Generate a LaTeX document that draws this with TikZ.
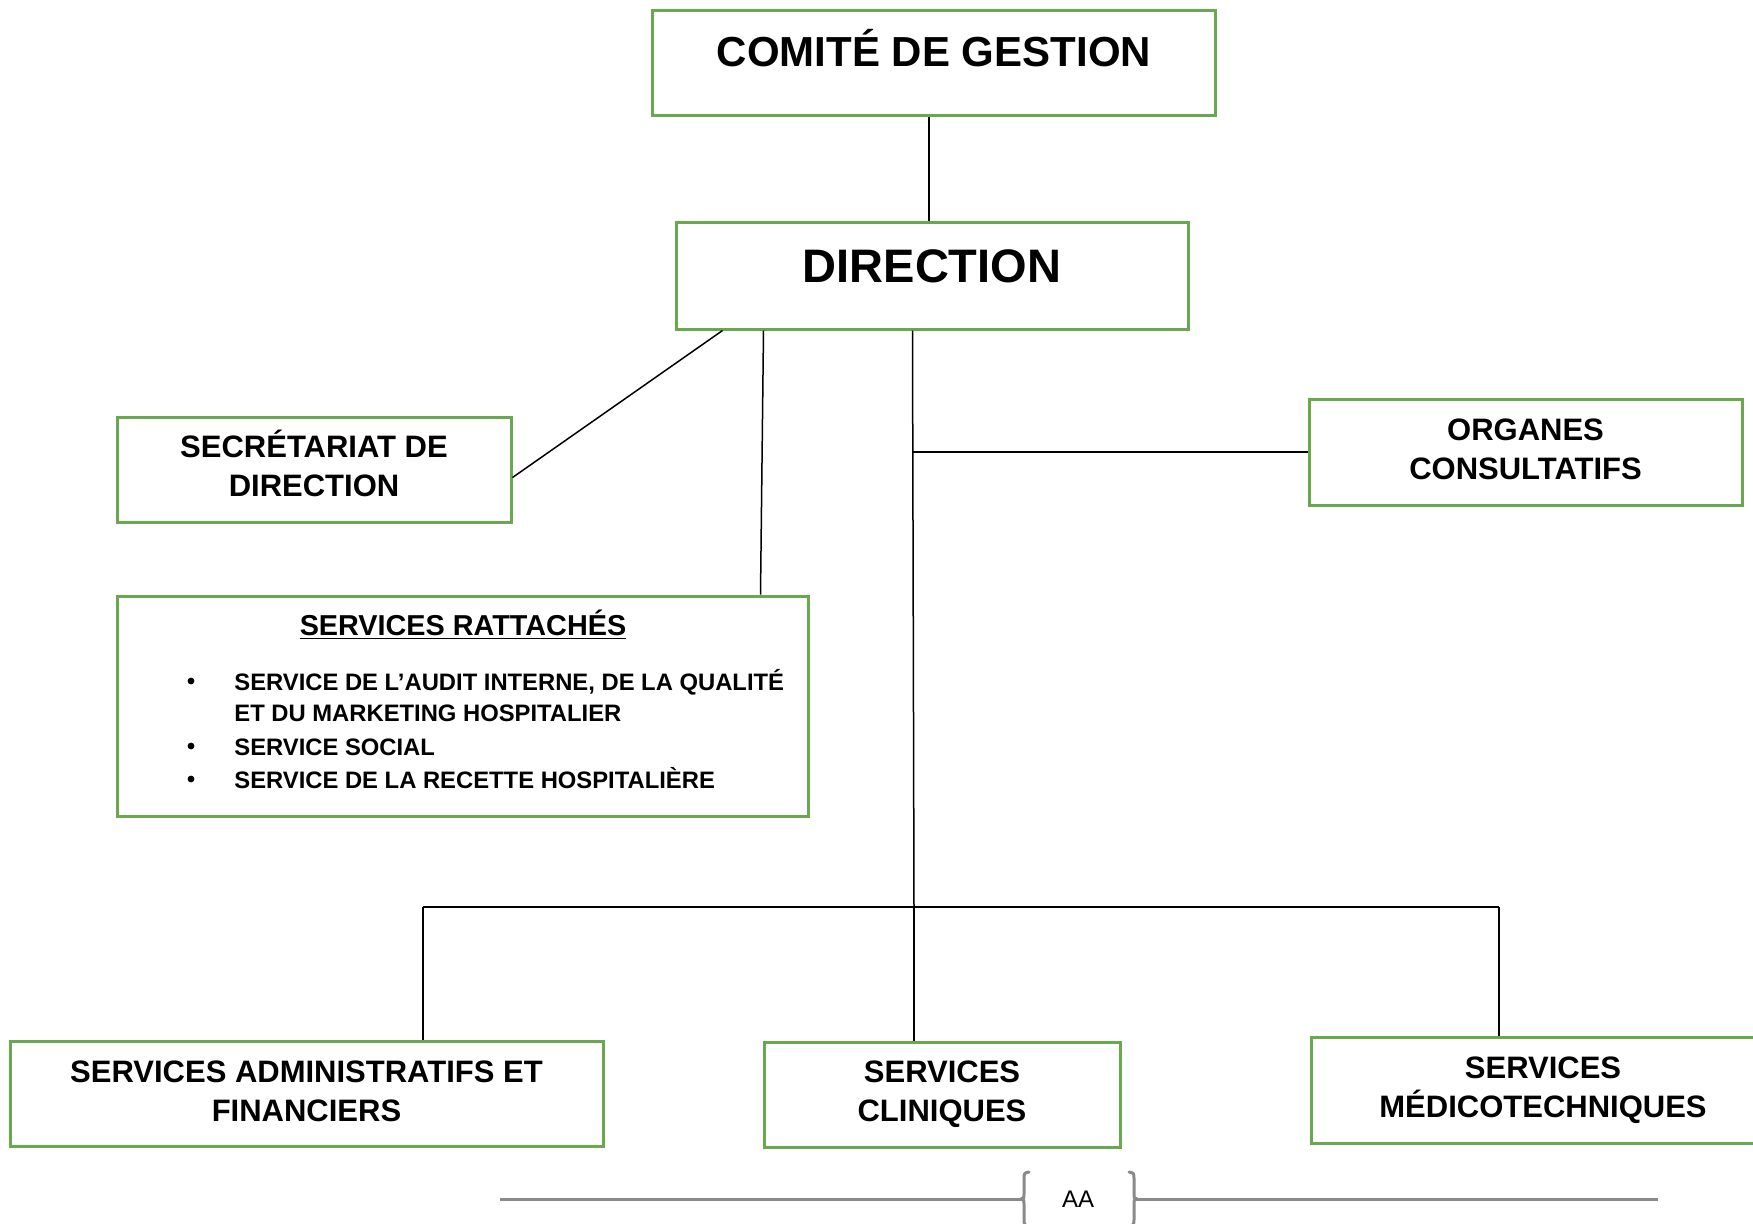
\documentclass[tikz,border=0pt]{standalone}
\usepackage{fontspec}
\setmainfont{Liberation Sans}
\usetikzlibrary{calc}
\definecolor{boxgreen}{HTML}{6AA84F}
\definecolor{footgray}{HTML}{8A8A8A}
\begin{document}
\begin{tikzpicture}[x=0.5pt,y=-0.5pt,
  box/.style={draw=boxgreen, line width=1.5pt, inner sep=0pt, align=center,
    font=\fontsize{15.5}{19.5}\selectfont\bfseries},
  boxtext/.style={inner sep=0pt, align=center, font=\fontsize{15.5}{19.5}\selectfont\bfseries},
  conn/.style={draw=black, line width=0.75pt},
  bigtitle/.style={inner sep=0pt, anchor=base, font=\fontsize{21}{25}\selectfont\bfseries},
  itemtext/.style={inner sep=0pt, anchor=base west, font=\fontsize{11.9}{14}\selectfont\bfseries},
  bul/.style={circle, fill=black, inner sep=0pt, minimum size=3.4pt},
  foot/.style={draw=footgray, line width=1.5pt}]
\useasboundingbox (0,0) rectangle (1753,1223);
\fill[white] (0,0) rectangle (1753,1223);

% boxes
\node[box, minimum width=281.5pt, minimum height=52.5pt] (comite) at (934,62.5) {};
\node[bigtitle] (comite-t) at (934,66) {COMITÉ DE GESTION};
\node[box, minimum width=256pt, minimum height=53.5pt] (direction) at (932,275.5) {};
\node[bigtitle, font=\fontsize{23.5}{28}\selectfont\bfseries] (direction-t) at (932,282) {DIRECTION};
\node[box, minimum width=197pt, minimum height=52.5pt] (secretariat) at (314,469.5) {};
\node[boxtext] (secretariat-t) at (314,463) {SECRÉTARIAT DE\\DIRECTION};
\node[box, minimum width=216.5pt, minimum height=53pt] (organes) at (1525.5,452) {};
\node[boxtext] (organes-t) at (1525.5,449) {ORGANES\\CONSULTATIFS};
\node[box, minimum width=345.5pt, minimum height=110pt] (rattaches) at (462.5,706) {};
\node[inner sep=0pt, anchor=base, font=\fontsize{14.4}{17}\selectfont\bfseries] (rattaches-t) at (463,635) {\underline{SERVICES RATTACHÉS}};
\node[bul] (b1) at (191,681) {};
\node[itemtext] (r1) at (234,690) {SERVICE DE L’AUDIT INTERNE, DE LA QUALITÉ};
\node[itemtext] (r1b) at (234,721) {ET DU MARKETING HOSPITALIER};
\node[bul] (b2) at (191,746) {};
\node[itemtext] (r2) at (234,755) {SERVICE SOCIAL};
\node[bul] (b3) at (191,779) {};
\node[itemtext] (r3) at (234,788) {SERVICE DE LA RECETTE HOSPITALIÈRE};
\node[box, minimum width=296.5pt, minimum height=52.5pt] (admin) at (306.5,1093.5) {};
\node[boxtext] (admin-t) at (306.5,1091) {SERVICES ADMINISTRATIFS ET\\FINANCIERS};
\node[box, minimum width=178pt, minimum height=52.5pt] (cliniques) at (942,1094.5) {SERVICES\\CLINIQUES};
\node[box, minimum width=232pt, minimum height=53pt] (medico) at (1543,1090) {SERVICES\\MÉDICOTECHNIQUES};

% connectors
\draw[conn] (comite.south -| 929,0) -- (direction.north -| 929,0);
\draw[conn] ($(direction.south west)+(48,0)$) -- ($(secretariat.east)+(0,8)$);
\draw[conn] ($(direction.south west)+(89,0)$) -- ($(rattaches.north east)+(-49,0)$);
\coordinate (trunk) at ($(direction.south west)+(238,0)$);
\coordinate (bus) at (914,907);
\coordinate (busL) at (423,907);
\coordinate (busR) at (1499,907);
\draw[conn] (trunk) -- (bus);
\draw[conn] (trunk |- organes.west) -- (organes.west);
\draw[conn] (busL) -- (busR);
\draw[conn] (busL) -- (busL |- admin.north);
\draw[conn] (bus) -- (bus |- cliniques.north);
\draw[conn] (busR) -- (busR |- medico.north);

% footer
\node[inner sep=0pt, font=\fontsize{12}{14}\selectfont] (aa) at (1078,1199) {AA};
\coordinate (fl1) at (500,1199);
\coordinate (fl2) at (1021,1199);
\coordinate (fr1) at (1137,1199);
\coordinate (fr2) at (1658,1199);
\draw[foot] (fl1) -- (fl2);
\draw[foot] (fr1) -- (fr2);
\draw[foot, line cap=round] (1029,1172) .. controls (1024,1173) .. (1024,1180) -- (1024,1194)
  .. controls (1024,1198) .. (fl2) .. controls (1024,1200) .. (1024,1204) -- (1024,1218)
  .. controls (1024,1225) .. (1029,1226);
\draw[foot, line cap=round] (1129,1172) .. controls (1134,1173) .. (1134,1180) -- (1134,1194)
  .. controls (1134,1198) .. (fr1) .. controls (1134,1200) .. (1134,1204) -- (1134,1218)
  .. controls (1134,1225) .. (1129,1226);
\end{tikzpicture}
\end{document}
